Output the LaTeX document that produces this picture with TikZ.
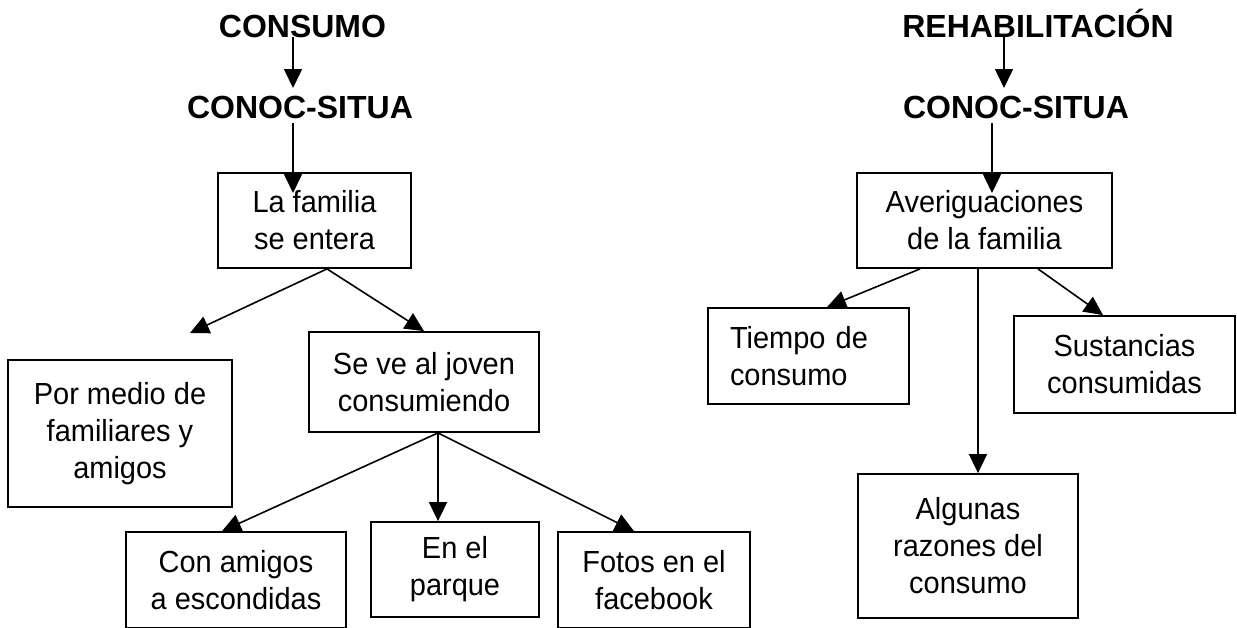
\documentclass[tikz,border=0pt]{standalone}
\usepackage{fontspec}
\setmainfont{Liberation Sans}
\newfontfamily\boxfont[FakeStretch=0.95]{Liberation Sans}
\usetikzlibrary{arrows.meta,calc}
\begin{document}
\begin{tikzpicture}[x=1pt,y=-1pt,
  head/.style={font=\fontsize{32}{37}\selectfont\bfseries, inner sep=0pt, anchor=base},
  box/.style={draw, line width=1.8pt, font=\boxfont\fontsize{30.5}{37}\selectfont, align=center, inner sep=0pt},
  arr/.style={line width=1.6pt, -{Triangle[length=19pt,width=18pt]}}]
\useasboundingbox (0,0) rectangle (1237,627);
\clip (0,0) rectangle (1237,627);
% headings
\node[head] (consumo) at (302.5,37) {CONSUMO};
\node[head] (conoc1) at (300,118) {CONOC-SITUA};
\node[head] (rehab) at (1038,37) {REHABILITACIÓN};
\node[head] (conoc2) at (1016,118) {CONOC-SITUA};
% left boxes
\node[box, minimum width=193pt, minimum height=95pt] (fam) at (314.5,220.5) {La familia\\se entera};
\node[box, minimum width=224pt, minimum height=147pt] (por) at (120,433.5) {Por medio de\\familiares y\\amigos};
\node[box, minimum width=230pt, minimum height=100pt] (seve) at (424,382) {Se ve al joven\\consumiendo};
\node[box, minimum width=220pt, minimum height=96pt] (con) at (236,580) {Con amigos\\a escondidas};
\node[box, minimum width=168pt, minimum height=95pt] (enel) at (455,569.5) {En el\\parque};
\node[box, minimum width=192pt, minimum height=96pt] (fotos) at (654,580) {Fotos en el\\facebook};
% right boxes
\node[box, minimum width=255pt, minimum height=95pt] (aver) at (984.5,220.5) {Averiguaciones\\de la familia};
\node[box, align=left, text width=157pt, inner xsep=22pt, minimum height=96pt] (tiempo) at (808.5,356) {Tiempo de\\consumo};
\node[box, minimum width=221pt, minimum height=97pt] (sust) at (1124.5,364.5) {Sustancias\\consumidas};
\node[box, minimum width=220pt, minimum height=144pt] (alg) at (968,546) {Algunas\\razones del\\consumo};
% free arrow ends
\coordinate (c1) at (293,88);
\coordinate (c2) at (293,193);
\coordinate (c3) at (1004,88);
\coordinate (c4) at (992,193);
\coordinate (pl) at (190,333);
% left connectors
\draw[arr] (consumo.base -| c1) -- (c1);
\draw[arr] ($(conoc1.base -| c2)+(0,5)$) -- (c2);
\draw[arr] ([xshift=12.5pt]fam.south) -- (pl);
\draw[arr] ([xshift=12.5pt]fam.south) -- (seve.north);
\draw[arr] ([xshift=14pt]seve.south) -- ([xshift=-14pt]con.north);
\draw[arr] ([xshift=14pt]seve.south) -- ([xshift=-17pt]enel.north);
\draw[arr] ([xshift=14pt]seve.south) -- ([xshift=-20pt]fotos.north);
% right connectors
\draw[arr] (rehab.base -| c3) -- (c3);
\draw[arr] ($(conoc2.base -| c4)+(0,5)$) -- (c4);
\draw[arr] ([xshift=-64.5pt]aver.south) -- ([xshift=18.5pt]tiempo.north);
\draw[arr] ([xshift=53.5pt]aver.south) -- ([xshift=-21.5pt]sust.north);
\draw[arr] ([xshift=-6.5pt]aver.south) -- ([xshift=10pt]alg.north);
\end{tikzpicture}
\end{document}
